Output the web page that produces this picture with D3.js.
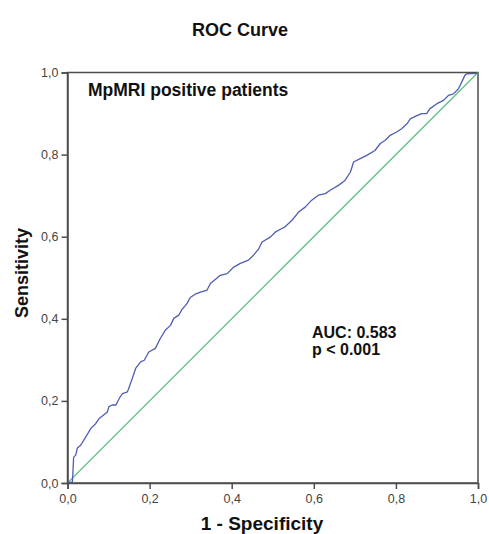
<!DOCTYPE html>
<html>
<head>
<meta charset="utf-8">
<script src="https://cdn.jsdelivr.net/npm/d3@7/dist/d3.min.js"></script>
<style>
  html, body { margin: 0; padding: 0; background: #fff; }
  svg { display: block; }
</style>
</head>
<body>
<svg id="chart" width="489" height="534"></svg>
<script>
// ROC curve data (1 - specificity, sensitivity)
const fpr = [0, 0.012, 0.015, 0.020, 0.024, 0.032, 0.045, 0.057, 0.069, 0.077, 0.085, 0.097, 0.101, 0.109, 0.118, 0.126, 0.134, 0.146, 0.158, 0.166, 0.178, 0.187, 0.198, 0.214, 0.226, 0.238, 0.251, 0.259, 0.271, 0.279, 0.291, 0.299, 0.311, 0.324, 0.340, 0.348, 0.360, 0.372, 0.389, 0.405, 0.421, 0.441, 0.453, 0.465, 0.474, 0.494, 0.506, 0.522, 0.530, 0.547, 0.563, 0.579, 0.595, 0.611, 0.628, 0.640, 0.660, 0.676, 0.689, 0.697, 0.713, 0.729, 0.749, 0.762, 0.774, 0.786, 0.802, 0.814, 0.827, 0.835, 0.851, 0.863, 0.875, 0.883, 0.900, 0.916, 0.928, 0.940, 0.952, 0.960, 0.968, 0.973, 0.997, 1];
const tpr = [0, 0.003, 0.063, 0.068, 0.085, 0.092, 0.113, 0.133, 0.145, 0.157, 0.163, 0.173, 0.186, 0.190, 0.190, 0.206, 0.218, 0.222, 0.255, 0.279, 0.295, 0.299, 0.319, 0.328, 0.352, 0.372, 0.384, 0.401, 0.409, 0.423, 0.437, 0.452, 0.460, 0.465, 0.470, 0.486, 0.496, 0.506, 0.510, 0.526, 0.535, 0.543, 0.555, 0.569, 0.587, 0.599, 0.611, 0.620, 0.624, 0.640, 0.660, 0.672, 0.689, 0.701, 0.705, 0.713, 0.725, 0.737, 0.757, 0.782, 0.790, 0.798, 0.810, 0.827, 0.835, 0.847, 0.855, 0.863, 0.875, 0.887, 0.895, 0.900, 0.900, 0.912, 0.924, 0.932, 0.944, 0.948, 0.960, 0.976, 0.993, 0.997, 0.998, 1];
const refX = [0, 1];
const refY = [0, 1];
const tickValues = [0, 0.2, 0.4, 0.6, 0.8, 1.0];
const tickLabels = ["0,0", "0,2", "0,4", "0,6", "0,8", "1,0"];
const titleText = "ROC Curve";
const xTitle = "1 - Specificity";
const yTitle = "Sensitivity";
const subsetLabel = "MpMRI positive patients";
const statLines = ["AUC: 0.583", "p < 0.001"];

(function () {
const svg = d3.select("#chart");
const font = "Arial, 'Liberation Sans', sans-serif";
const mLeft = 67.5, mRight = 478, mTop = 72.5, mBottom = 483;

const x = d3.scaleLinear().domain([0, 1]).range([mLeft, mRight]);
const y = d3.scaleLinear().domain([0, 1]).range([mBottom, mTop]);

// frame
svg.append("rect")
  .attr("x", mLeft).attr("y", mTop)
  .attr("width", mRight - mLeft).attr("height", mBottom - mTop)
  .attr("fill", "none").attr("stroke", "#4d4d4d").attr("stroke-width", 1.5);

// reference diagonal
const line = d3.line().x(d => x(d[0])).y(d => y(d[1]));
svg.append("path")
  .datum(refX.map((v, i) => [v, refY[i]]))
  .attr("d", line)
  .attr("fill", "none").attr("stroke", "#6cc28c").attr("stroke-width", 1.5);

// ROC curve
svg.append("path")
  .datum(fpr.map((v, i) => [v, tpr[i]]))
  .attr("d", line)
  .attr("fill", "none").attr("stroke", "#4f5db3").attr("stroke-width", 1.3)
  .attr("stroke-linejoin", "round");

// axes
const fmt = d => tickLabels[tickValues.indexOf(d)];
const xAxis = svg.append("g").attr("transform", `translate(0,${mBottom})`)
  .call(d3.axisBottom(x).tickValues(tickValues).tickFormat(fmt).tickSize(6).tickPadding(5));
const yAxis = svg.append("g").attr("transform", `translate(${mLeft},0)`)
  .call(d3.axisLeft(y).tickValues(tickValues).tickFormat(fmt).tickSize(6).tickPadding(3));
[xAxis, yAxis].forEach(g => {
  g.select(".domain").attr("stroke", "#4d4d4d").attr("stroke-width", 1.5);
  g.selectAll(".tick line").attr("stroke", "#4d4d4d").attr("stroke-width", 1.5);
  g.selectAll(".tick text").attr("fill", "#444").style("font-family", font).style("font-size", "12.5px");
});

// titles
svg.append("text").attr("x", 240).attr("y", 36).attr("text-anchor", "middle")
  .style("font-family", font).style("font-size", "18px").style("font-weight", "bold")
  .attr("fill", "#111").text(titleText);

svg.append("text").attr("x", 262).attr("y", 530).attr("text-anchor", "middle")
  .style("font-family", font).style("font-size", "19px").style("font-weight", "bold")
  .attr("fill", "#111").text(xTitle);

svg.append("text").attr("transform", "translate(28,273) rotate(-90)").attr("text-anchor", "middle")
  .style("font-family", font).style("font-size", "18px").style("font-weight", "bold")
  .attr("fill", "#111").text(yTitle);

// annotations
svg.append("text").attr("x", 88).attr("y", 96)
  .style("font-family", font).style("font-size", "17.5px").style("font-weight", "bold")
  .attr("fill", "#111").text(subsetLabel);

statLines.forEach((t, i) => {
  svg.append("text").attr("x", 312).attr("y", 338 + i * 17)
    .style("font-family", font).style("font-size", "16px").style("font-weight", "bold")
    .attr("fill", "#111").text(t);
});
})();
</script>
</body>
</html>
